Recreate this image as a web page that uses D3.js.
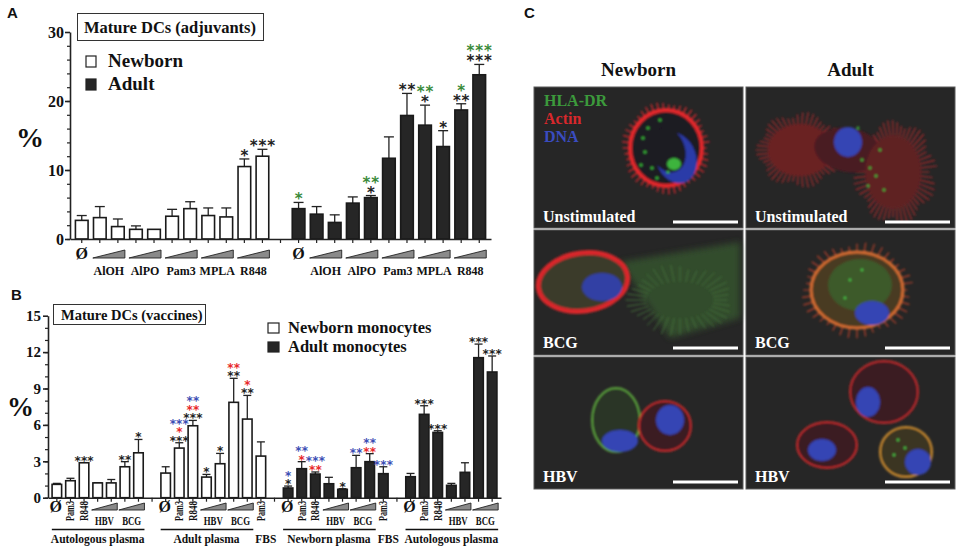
<!DOCTYPE html>
<html>
<head>
<meta charset="utf-8">
<script src="https://cdn.jsdelivr.net/npm/d3@7"></script>
<style>
body { margin: 0; background: #fff; }
text { font-family: 'Liberation Serif', 'Times New Roman', serif; font-weight: bold; }
</style>
</head>
<body>
<div id="chart"></div>
<script>
// ---- panel A data (adjuvants) ----
const aTreat = ['Ø', 'AlOH', 'AlOH', 'AlPO', 'AlPO', 'Pam3', 'Pam3', 'MPLA', 'MPLA', 'R848', 'R848']
const aNewborn = [2.7, 3.1, 1.8, 1.4, 1.4, 3.3, 4.4, 3.4, 3.2, 10.5, 12.0]
const aNewbornErr = [0.7, 1.6, 1.1, 0.5, 0, 1.0, 1.0, 1.1, 1.3, 1.1, 1.0]
const aAdult = [4.4, 3.6, 2.4, 5.2, 6.0, 11.7, 17.9, 16.5, 13.4, 18.7, 23.8]
const aAdultErr = [0.9, 1.1, 1.1, 0.9, 0.3, 3.1, 3.2, 2.9, 2.3, 0.9, 1.5]
const aNewbornStars = ['', '', '', '', '', '', '', '', '', '*', '***']
const aAdultStars = ['', '', '', '', '*', '', '**', '*', '*', '**', '***']
const aAdultStarsGreen = ['*', '', '', '', '**', '', '', '**', '', '*', '***']
const aTicks = [0, 10, 20, 30]

// ---- panel B data (vaccines) ----
const bTreat = ['Ø', 'Pam3', 'R848', 'HBV', 'HBV', 'BCG', 'BCG']
const bGroups = ['Autologous plasma', 'Adult plasma', 'Newborn plasma', 'Autologous plasma']
const bNbAuto = [1.1, 1.4, 2.88, 1.22, 1.22, 2.55, 3.7]
const bNbAutoErr = [0.08, 0.2, 0, 0.02, 0.28, 0.42, 1.1]
const bNbAdultPl = [2.03, 4.09, 5.93, 1.7, 2.8, 7.86, 6.48]
const bNbAdultPlErr = [0.52, 0.44, 0.44, 0.22, 0.85, 1.98, 1.95]
const bNbFbs = 3.43, bNbFbsErr = 1.17
const bAdNbPl = [0.8, 2.39, 1.95, 1.15, 0.69, 2.47, 2.97]
const bAdNbPlErr = [0.16, 0.58, 0.17, 0.53, 0.05, 1.02, 0.66]
const bAdFbs = 1.98, bAdFbsErr = 0.57
const bAdAuto = [1.73, 6.87, 5.38, 1.02, 2.09, 11.54, 10.36]
const bAdAutoErr = [0.27, 0.71, 0.14, 0.16, 0.79, 1.12, 1.32]
// significance stars: black / red / blue
const bNbAutoStars = ['', '', '***', '', '', '**', '*']
const bNbAdultPlStars = ['', '***', '***', '*', '*', '**', '**']
const bNbAdultPlRed = ['', '*', '**', '', '', '**', '*']
const bNbAdultPlBlue = ['', '***', '**', '', '', '', '']
const bAdNbPlStars = ['*', '', '', '', '*', '', '']
const bAdNbPlRed = ['', '*', '**', '', '', '', '**']
const bAdNbPlBlue = ['*', '**', '***', '', '', '**', '**']
const bAdFbsBlue = '***'
const bAdAutoStars = ['', '***', '***', '', '', '***', '***']
const bTicks = [0, 3, 6, 9, 12, 15]

// ---- panel C text ----
const cCols = ['Newborn', 'Adult']
const cRows = ['Unstimulated', 'BCG', 'HBV']
const cStains = ['HLA-DR', 'Actin', 'DNA']

const white = '#ffffff', dark = '#262626'
const starCol = { k: '#222', g: '#3a8a3a', r: '#e8282a', b: '#3c4eb4' }
const serif = "'Liberation Serif', 'Times New Roman', serif"

const svg = d3.select('#chart').append('svg')
  .attr('width', 961).attr('height', 552)

// ================= panel A =================
const xA = d3.scaleBand().domain(d3.range(23)).range([70, 491]).padding(0.3)
const yA = d3.scaleLinear().domain([0, 30]).range([239, 32])

let barsA = []
aNewborn.forEach((v, i) => barsA.push({ slot: i, value: v, err: aNewbornErr[i], fill: white,
  stars: [['k', aNewbornStars[i]]] }))
aAdult.forEach((v, i) => barsA.push({ slot: i + 12, value: v, err: aAdultErr[i], fill: dark,
  stars: [['k', aAdultStars[i]], ['g', aAdultStarsGreen[i]]] }))

function drawBars(bars, x, y, cap, starSize, rowGap, spacing) {
  const g = svg.append('g')
  g.selectAll('line.err').data(bars.filter(d => d.err > 0)).enter().append('line')
    .attr('x1', d => x(d.slot) + x.bandwidth() / 2).attr('x2', d => x(d.slot) + x.bandwidth() / 2)
    .attr('y1', d => y(d.value)).attr('y2', d => y(d.value + d.err))
    .attr('stroke', '#222').attr('stroke-width', 1.3)
  g.selectAll('line.cap').data(bars.filter(d => d.err > 0)).enter().append('line')
    .attr('x1', d => x(d.slot) + x.bandwidth() / 2 - cap).attr('x2', d => x(d.slot) + x.bandwidth() / 2 + cap)
    .attr('y1', d => y(d.value + d.err)).attr('y2', d => y(d.value + d.err))
    .attr('stroke', '#222').attr('stroke-width', 1.3)
  g.selectAll('rect').data(bars).enter().append('rect')
    .attr('x', d => x(d.slot)).attr('y', d => y(d.value))
    .attr('width', x.bandwidth()).attr('height', d => y(0) - y(d.value))
    .attr('fill', d => d.fill).attr('stroke', '#1a1a1a').attr('stroke-width', 1.6)
  // stacked star rows go into one text element per bar
  bars.forEach(d => {
    const rows = d.stars.filter(s => s[1])
    if (!rows.length) return
    const cx = x(d.slot) + x.bandwidth() / 2 + spacing / 2
    const t = g.append('text').attr('text-anchor', 'middle')
      .style('font-family', 'DejaVu Sans')
      .attr('font-size', starSize).attr('letter-spacing', spacing)
    rows.forEach((s, j) => {
      t.append('tspan').attr('x', cx).attr('y', y(d.value + d.err) + 2 - j * rowGap)
        .attr('fill', starCol[s[0]]).text(s[1])
    })
  })
}

function drawAxes(x, y, x0, ticks, minorStep, fontSize, labelX) {
  const yMajor = d3.axisLeft(y).tickValues(ticks).tickSize(5).tickSizeOuter(0)
  const yMinor = d3.axisLeft(y).tickValues(d3.range(0, ticks[ticks.length - 1], minorStep)).tickSize(3).tickFormat('')
  svg.append('g').attr('transform', 'translate(' + x0 + ',0)').call(yMinor)
    .call(g => g.select('.domain').remove())
    .selectAll('line').attr('stroke', '#222').attr('stroke-width', 1.2)
  const ga = svg.append('g').attr('transform', 'translate(' + x0 + ',0)').call(yMajor)
    .attr('font-family', serif).attr('font-weight', 'bold')
  ga.select('.domain').attr('stroke', '#222').attr('stroke-width', 1.6)
  ga.selectAll('line').attr('stroke', '#222').attr('stroke-width', 1.6)
  ga.selectAll('text').attr('font-size', fontSize).attr('fill', '#111').attr('x', labelX)
  const xAxis = d3.axisBottom(x).tickSize(4).tickSizeOuter(0).tickFormat('')
  const gx = svg.append('g').attr('transform', 'translate(0,' + y(0) + ')').call(xAxis)
  gx.select('.domain').attr('stroke', '#222').attr('stroke-width', 1.6)
  gx.selectAll('line').attr('stroke', '#222').attr('stroke-width', 1.2)
}

drawBars(barsA, xA, yA, 5, 15, 10, 0.9)
drawAxes(xA, yA, 70, aTicks, 2, 16, -6)

function wedge(xl, xr, yb, h) {
  svg.append('polygon')
    .attr('points', [[xl, yb], [xr, yb], [xr, yb - h]].map(p => p.join(',')).join(' '))
    .attr('fill', '#8a8a8a').attr('stroke', '#222').attr('stroke-width', 0.9)
}

const cA = s => xA(s) + xA.bandwidth() / 2
;[0, 12].forEach(off => {
  svg.append('text').attr('x', cA(off)).attr('y', 259).attr('text-anchor', 'middle')
    .attr('font-size', 16).attr('fill', '#111').text(aTreat[0])
  for (let i = 1; i < aTreat.length; i += 2) {
    wedge(cA(off + i) - 7, cA(off + i + 1) + 7, 258, 8)
    svg.append('text').attr('x', (cA(off + i) + cA(off + i + 1)) / 2).attr('y', 275)
      .attr('text-anchor', 'middle').attr('font-size', 12).attr('fill', '#111').text(aTreat[i])
  }
})

// title box and legend A
svg.append('rect').attr('x', 77.5).attr('y', 13.5).attr('width', 186).attr('height', 27)
  .attr('fill', 'none').attr('stroke', '#333').attr('stroke-width', 1)
svg.append('text').attr('x', 84).attr('y', 33).attr('font-size', 16.5).attr('fill', '#111')
  .text('Mature DCs (adjuvants)')
;[['Newborn', white, 67], ['Adult', dark, 90]].forEach(l => {
  svg.append('rect').attr('x', 86).attr('y', l[2] - 11).attr('width', 10).attr('height', 11)
    .attr('fill', l[1]).attr('stroke', '#222').attr('stroke-width', 1.2)
  svg.append('text').attr('x', 108).attr('y', l[2]).attr('font-size', 19).attr('fill', '#111').text(l[0])
})
svg.append('text').attr('x', 16).attr('y', 147).attr('font-size', 28).attr('fill', '#111').text('%')
svg.append('text').attr('x', 7).attr('y', 18).attr('font-size', 15)
  .style('font-family', "'Liberation Sans', Arial, sans-serif").attr('fill', '#111').text('A')

// ================= panel B =================
const xB = d3.scaleBand().domain(d3.range(33)).range([48, 501]).padding(0.3)
const yB = d3.scaleLinear().domain([0, 15]).range([497.7, 315.7])
const groupStart = [0, 8, 17, 26]
const fbsSlots = [15, 24]

let barsB = []
bNbAuto.forEach((v, i) => barsB.push({ slot: i, value: v, err: bNbAutoErr[i], fill: white,
  stars: [['k', bNbAutoStars[i]]] }))
bNbAdultPl.forEach((v, i) => barsB.push({ slot: i + 8, value: v, err: bNbAdultPlErr[i], fill: white,
  stars: [['k', bNbAdultPlStars[i]], ['r', bNbAdultPlRed[i]], ['b', bNbAdultPlBlue[i]]] }))
barsB.push({ slot: 15, value: bNbFbs, err: bNbFbsErr, fill: white, stars: [] })
bAdNbPl.forEach((v, i) => barsB.push({ slot: i + 17, value: v, err: bAdNbPlErr[i], fill: dark,
  stars: [['k', bAdNbPlStars[i]], ['r', bAdNbPlRed[i]], ['b', bAdNbPlBlue[i]]] }))
barsB.push({ slot: 24, value: bAdFbs, err: bAdFbsErr, fill: dark, stars: [['b', bAdFbsBlue]] })
bAdAuto.forEach((v, i) => barsB.push({ slot: i + 26, value: v, err: bAdAutoErr[i], fill: dark,
  stars: [['k', bAdAutoStars[i]]] }))

drawBars(barsB, xB, yB, 4, 12, 8.5, 0.2)
drawAxes(xB, yB, 48, bTicks, 1, 15, -7)

const cB = s => xB(s) + xB.bandwidth() / 2
function rotLabel(x, t) {
  svg.append('text').attr('transform', 'translate(' + (x + 4) + ',501) rotate(-90)')
    .attr('text-anchor', 'end').attr('font-size', 12).attr('fill', '#111')
    .attr('textLength', 20).attr('lengthAdjust', 'spacingAndGlyphs').text(t)
}
groupStart.forEach((off, gi) => {
  svg.append('text').attr('x', cB(off) - 1).attr('y', 512).attr('text-anchor', 'middle')
    .attr('font-size', 16).attr('fill', '#111').text(bTreat[0])
  rotLabel(cB(off + 1), bTreat[1])
  rotLabel(cB(off + 2), bTreat[2])
  ;[3, 5].forEach(i => {
    wedge(cB(off + i) - 6, cB(off + i + 1) + 6, 510, 7)
    svg.append('text').attr('x', (cB(off + i) + cB(off + i + 1)) / 2).attr('y', 524.5)
      .attr('text-anchor', 'middle').attr('font-size', 11.5).attr('fill', '#111')
      .attr('textLength', 19).attr('lengthAdjust', 'spacingAndGlyphs').text(bTreat[i])
  })
  svg.append('line').attr('x1', cB(off) - 5).attr('x2', cB(off + 6) + 6)
    .attr('y1', 529.5).attr('y2', 529.5).attr('stroke', '#111').attr('stroke-width', 1.3)
  svg.append('text').attr('x', (cB(off) + cB(off + 6)) / 2).attr('y', 543).attr('text-anchor', 'middle')
    .attr('font-size', 11.5).attr('fill', '#111').text(bGroups[gi])
})
fbsSlots.forEach(s => {
  rotLabel(cB(s), 'Pam3')
  svg.append('text').attr('x', cB(s) + 5).attr('y', 543).attr('text-anchor', 'middle')
    .attr('font-size', 11.5).attr('fill', '#111').text('FBS')
})

svg.append('rect').attr('x', 53.5).attr('y', 304.5).attr('width', 152).attr('height', 20)
  .attr('fill', 'none').attr('stroke', '#333').attr('stroke-width', 1)
svg.append('text').attr('x', 61).attr('y', 319.5).attr('font-size', 14.5).attr('fill', '#111')
  .text('Mature DCs (vaccines)')
;[['Newborn monocytes', white, 333], ['Adult monocytes', dark, 352]].forEach(l => {
  svg.append('rect').attr('x', 268).attr('y', l[2] - 10).attr('width', 11).attr('height', 10)
    .attr('fill', l[1]).attr('stroke', '#222').attr('stroke-width', 1.2)
  svg.append('text').attr('x', 288).attr('y', l[2]).attr('font-size', 16.5).attr('fill', '#111').text(l[0])
})
svg.append('text').attr('x', 7).attr('y', 416).attr('font-size', 27).attr('fill', '#111').text('%')
svg.append('text').attr('x', 11).attr('y', 300).attr('font-size', 15)
  .style('font-family', "'Liberation Sans', Arial, sans-serif").attr('fill', '#111').text('B')

// ================= panel C (micrographs, drawn schematically) =================
svg.append('text').attr('x', 524).attr('y', 18).attr('font-size', 15)
  .style('font-family', "'Liberation Sans', Arial, sans-serif").attr('fill', '#111').text('C')

const defs = svg.append('defs')
defs.append('filter').attr('id', 'soft').append('feGaussianBlur').attr('stdDeviation', 1.1)
defs.append('filter').attr('id', 'softer').append('feGaussianBlur').attr('stdDeviation', 3)

const panelX = [534, 746], panelY = [87, 230, 357], panelH = [141, 125, 132], panelW = 209
cCols.forEach((t, i) => svg.append('text').attr('x', panelX[i] + panelW / 2).attr('y', 76)
  .attr('text-anchor', 'middle').attr('font-size', 19).attr('fill', '#111').text(t))

const img = svg.append('g')
panelY.forEach((py, r) => {
  panelX.forEach(px => {
    img.append('rect').attr('x', px).attr('y', py).attr('width', panelW).attr('height', panelH[r])
      .attr('fill', '#262626').attr('stroke', '#5a5a5a').attr('stroke-width', 1)
  })
})

function spiky(g, cx, cy, rx, ry, n, len, col, w) {
  for (let i = 0; i < n; i++) {
    const a = i / n * Math.PI * 2
    const l = len * (0.5 + 0.5 * Math.abs(Math.sin(i * 2.7)))
    const x1 = cx + Math.cos(a) * rx * 0.85, y1 = cy + Math.sin(a) * ry * 0.85
    const x2 = cx + Math.cos(a) * (rx + l), y2 = cy + Math.sin(a) * (ry + l)
    g.append('line').attr('x1', x1).attr('y1', y1).attr('x2', x2).attr('y2', y2)
      .attr('stroke', col).attr('stroke-width', w).attr('stroke-linecap', 'round')
  }
}
function ell(g, cx, cy, rx, ry, fill, stroke, sw, rot) {
  return g.append('ellipse').attr('cx', cx).attr('cy', cy).attr('rx', rx).attr('ry', ry)
    .attr('fill', fill).attr('stroke', stroke || 'none').attr('stroke-width', sw || 0)
    .attr('transform', rot ? 'rotate(' + rot + ',' + cx + ',' + cy + ')' : null)
}
function dots(g, pts, col, r) {
  pts.forEach(p => g.append('circle').attr('cx', p[0]).attr('cy', p[1]).attr('r', r).attr('fill', col))
}

// row 1, newborn
let c = img.append('g').attr('filter', 'url(#soft)')
spiky(c, 666, 148, 36, 38, 46, 8, '#c0282c', 1.6)
ell(c, 666, 148, 36, 38, '#1c1a20', '#e2282c', 4)
ell(c, 676, 158, 20, 26, '#2c3aa8', null, 0, -20)
ell(c, 668, 150, 17, 23, '#1c1a20', null, 0, -20)
ell(c, 674, 164, 7, 6, '#3cb43c')
dots(c, [[643, 138], [645, 152], [648, 128], [652, 168], [660, 120], [657, 178], [668, 172], [641, 165]], '#38b838', 1.6)
// row 1, adult
c = img.append('g').attr('filter', 'url(#soft)')
spiky(c, 800, 150, 30, 24, 50, 14, '#a8282c', 1.2)
spiky(c, 895, 172, 26, 36, 54, 16, '#a8282c', 1.2)
ell(c, 800, 150, 32, 26, '#6a2024')
ell(c, 848, 150, 34, 22, '#4a1a22', null, 0, 10)
ell(c, 893, 172, 28, 36, '#5e2024')
ell(c, 848, 142, 14, 15, '#3444b4')
dots(c, [[862, 160], [870, 168], [876, 176], [858, 128], [880, 150], [868, 186], [884, 190]], '#3cb43c', 1.4)
// row 2, newborn
img.append('path').attr('d', 'M620,262 L740,242 L740,318 L670,338 Z').attr('fill', '#34532e')
  .attr('filter', 'url(#softer)').attr('opacity', 0.85)
c = img.append('g').attr('filter', 'url(#soft)')
spiky(c, 680, 300, 40, 22, 36, 14, '#44703a', 1)
ell(c, 583, 282, 45, 29, '#3a3a2c', '#d8282a', 5, -8)
ell(c, 602, 287, 20, 14, '#3240a4')
// row 2, adult
c = img.append('g').attr('filter', 'url(#soft)')
spiky(c, 857, 290, 44, 36, 40, 12, '#b8402c', 1.2)
ell(c, 857, 290, 46, 38, '#4a3a22', '#d06a30', 3)
ell(c, 860, 285, 32, 26, '#3c5a2a')
ell(c, 872, 313, 17, 12, '#3444b4')
dots(c, [[850, 280], [862, 270], [845, 298]], '#44c044', 1.4)
// row 3, newborn
c = img.append('g').attr('filter', 'url(#soft)')
ell(c, 616, 420, 24, 32, '#2a3526', '#5aa03c', 2)
ell(c, 665, 426, 26, 25, '#3a1e20', '#c02a2c', 2)
ell(c, 620, 441, 18, 11, '#3444b4')
ell(c, 670, 420, 14, 15, '#3444b4')
// row 3, adult
c = img.append('g').attr('filter', 'url(#soft)')
ell(c, 884, 392, 34, 31, '#3a1e20', '#b82a2c', 2)
ell(c, 827, 445, 30, 23, '#3a1e20', '#c02a2c', 2)
ell(c, 906, 452, 26, 25, '#3a3420', '#c88a30', 2)
ell(c, 868, 402, 12, 15, '#3444b4')
ell(c, 822, 450, 14, 11, '#3444b4')
ell(c, 918, 462, 13, 13, '#3444b4')
dots(c, [[898, 440], [905, 448], [894, 455]], '#44c044', 1.4)

// stain legend
cStains.forEach((t, i) => svg.append('text').attr('x', 544).attr('y', 106 + i * 18)
  .attr('font-size', 16).attr('fill', ['#3c9a3c', '#d8282c', '#3a4cc0'][i]).text(t))
// row labels and scale bars
const labelY = [222, 348, 482]
cRows.forEach((t, r) => {
  panelX.forEach(px => {
    svg.append('text').attr('x', px + 9).attr('y', labelY[r]).attr('font-size', 16)
      .attr('fill', '#fff').text(t)
    svg.append('line').attr('x1', px + 139).attr('x2', px + 204)
      .attr('y1', labelY[r]).attr('y2', labelY[r]).attr('stroke', '#fff').attr('stroke-width', 3)
  })
})
</script>
</body>
</html>
